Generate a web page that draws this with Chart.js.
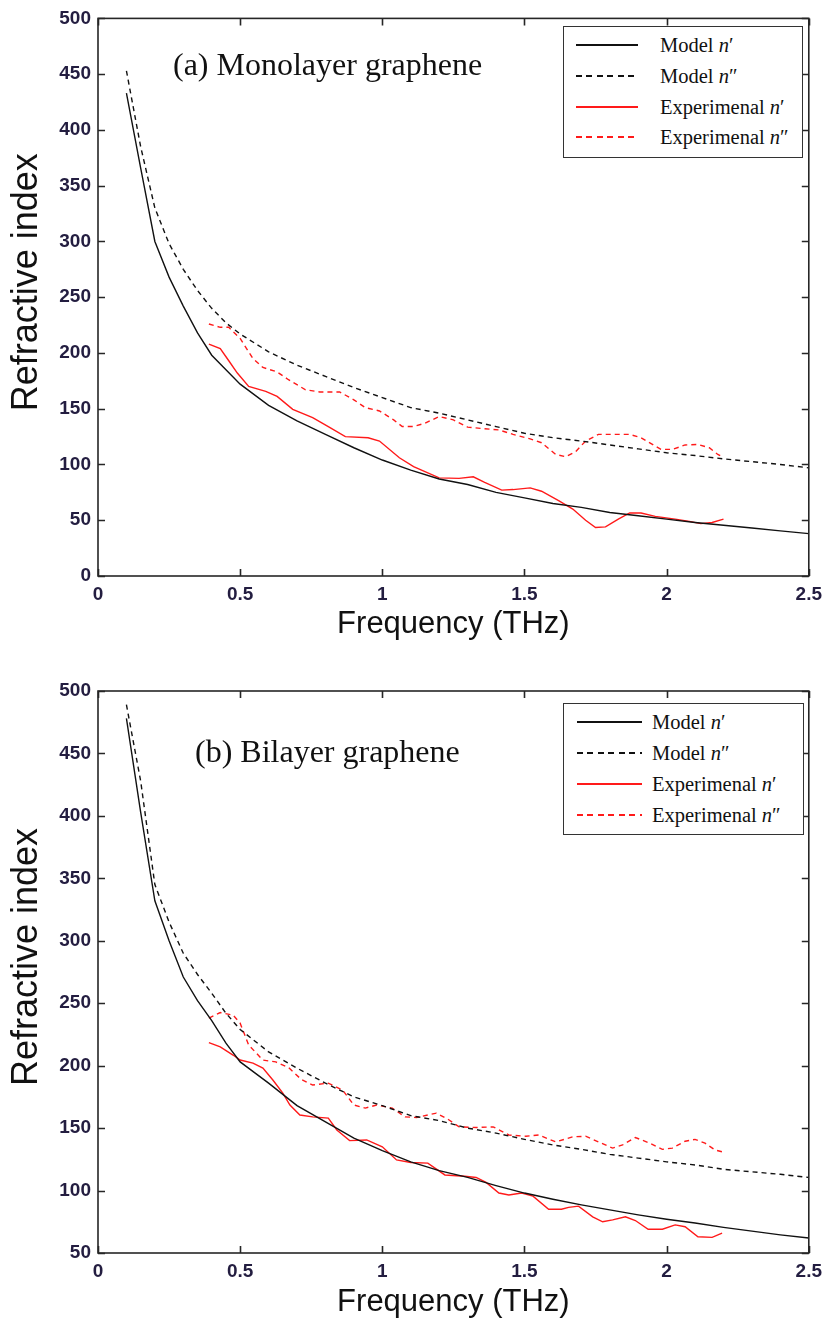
<!DOCTYPE html>
<html lang="en">
<head>
<meta charset="UTF-8">
<title>Refractive index of graphene</title>
<style>
    body {
        margin: 0;
        background: #fff;
    }
    .page {
        position: relative;
        width: 829px;
        height: 1325px;
        overflow: hidden;
        background: #fff;
    }
    canvas {
        position: absolute;
        left: 0;
    }
    .note {
        position: absolute;
        font-family: 'Liberation Serif', 'Times New Roman', serif;
        font-size: 32px;
        line-height: 32px;
        color: #111;
        white-space: nowrap;
    }
    .legend {
        position: absolute;
        border: 1.6px solid #333;
        background: #fff;
        box-sizing: border-box;
    }
    .legend .row {
        position: absolute;
        left: 0;
        height: 20px;
        display: flex;
        align-items: center;
        font-family: 'Liberation Serif', 'Times New Roman', serif;
        font-size: 20.5px;
        line-height: 20px;
        color: #111;
        white-space: nowrap;
    }
    .legend .sample {
        display: inline-block;
        height: 1.6px;
    }
</style>
</head>
<body>
<div class="page">
    <canvas id="chart-mono" width="829" height="650" style="top:0"></canvas>
    <canvas id="chart-bi" width="829" height="675" style="top:650px"></canvas>

    <div class="note" style="left:173px; top:48px">(a) Monolayer graphene</div>
    <div class="note" style="left:195px; top:735px">(b) Bilayer graphene</div>

    <div class="legend" id="legend-mono" style="left:563px; top:26px; width:240px; height:132px"></div>
    <div class="legend" id="legend-bi" style="left:563px; top:703px; width:241px; height:132px"></div>
</div>

<script src="https://cdn.jsdelivr.net/npm/chart.js"></script>
<script>
    // frequency (THz) grid for the model curves
    const modelFreq = [0.1, 0.15, 0.2, 0.25, 0.3, 0.35, 0.4, 0.45, 0.5, 0.6, 0.7, 0.8, 0.9, 1.0,
                       1.1, 1.2, 1.3, 1.4, 1.5, 1.6, 1.7, 1.8, 1.9, 2.0, 2.1, 2.2, 2.3, 2.4, 2.5];
    const xTicks = [0, 0.5, 1, 1.5, 2, 2.5];

    // (a) monolayer
    const monoModelN1 = [433, 366, 300, 268, 242, 218, 198, 185, 172, 153, 139, 127, 115, 104,
                         95, 87, 82, 75, 70, 65, 61.5, 57, 54, 51, 48, 45.5, 43, 40.5, 38];
    const monoModelN2 = [453, 385, 330, 298, 275, 256, 240, 227, 217, 201, 189, 179, 169, 160,
                         151, 146, 140, 134, 128, 124, 121, 117.5, 114, 110.5, 108, 105, 102.5, 100, 97];
    const monoExpN1Freq = [0.39, 0.43, 0.46, 0.49, 0.53, 0.59, 0.63, 0.685, 0.755, 0.81, 0.87, 0.95,
                           0.99, 1.06, 1.11, 1.2, 1.27, 1.32, 1.36, 1.42, 1.46, 1.52, 1.56, 1.62,
                           1.67, 1.715, 1.75, 1.785, 1.83, 1.87, 1.91, 1.96, 2.03, 2.08, 2.12, 2.16, 2.2];
    const monoExpN1 = [208, 204, 193, 182, 170, 165.5, 161, 149.5, 142, 134, 125, 124,
                       121, 106, 98, 88, 87.5, 89, 84, 77, 77.5, 79, 76, 67.5,
                       60, 50, 43.5, 44, 51, 56.5, 56.5, 53.5, 51, 49, 47, 48, 51];
    const monoExpN2Freq = [0.39, 0.43, 0.46, 0.5, 0.545, 0.58, 0.63, 0.67, 0.73, 0.78, 0.85, 0.9,
                           0.94, 0.99, 1.04, 1.07, 1.11, 1.15, 1.2, 1.25, 1.3, 1.36, 1.41, 1.46,
                           1.52, 1.56, 1.61, 1.645, 1.68, 1.715, 1.76, 1.81, 1.87, 1.91, 1.95, 1.98,
                           2.02, 2.065, 2.11, 2.15, 2.18, 2.195];
    const monoExpN2 = [226, 223, 223, 213, 195, 187, 183, 176, 167, 165, 165, 158,
                       151, 148, 140, 134, 134, 137, 143, 140, 133.5, 132, 131, 127,
                       123, 119.5, 109, 107, 111.5, 121, 127, 127, 127, 124, 118, 113.5,
                       113.5, 117.5, 118, 115, 109, 107];

    // (b) bilayer
    const biModelN1 = [478, 403, 332, 300, 271, 252, 236, 218, 203, 186, 168, 155, 142, 132,
                       123, 116, 110.5, 104, 98, 93, 88.5, 84.5, 80.5, 77, 74, 70.5, 67.5, 64.5, 62];
    const biModelN2 = [489, 428, 345, 315, 290, 273, 258, 242, 229, 211, 198, 186, 175, 168,
                       160, 156, 150, 146, 141, 136.5, 133, 129, 126, 123, 120.5, 117, 115, 113, 110.5];
    const biExpN1Freq = [0.39, 0.43, 0.475, 0.5, 0.545, 0.58, 0.615, 0.65, 0.675, 0.71, 0.755, 0.81,
                         0.84, 0.885, 0.945, 1.0, 1.05, 1.1, 1.16, 1.22, 1.29, 1.33, 1.365, 1.41,
                         1.445, 1.49, 1.53, 1.585, 1.63, 1.655, 1.69, 1.74, 1.775, 1.81, 1.855, 1.89,
                         1.935, 1.985, 2.03, 2.065, 2.11, 2.16, 2.195];
    const biExpN1 = [218.5, 215, 208.5, 204.5, 202, 198, 188.5, 178, 168.5, 160.5, 159, 158,
                     148.5, 140, 140.5, 135, 124.5, 122.5, 122, 112.5, 111.5, 110.5, 106.5, 98,
                     96.5, 98, 95.5, 85, 85, 86.5, 87.5, 79, 75, 76.5, 79, 76,
                     69, 69, 72.5, 71, 63, 62.5, 66];
    const biExpN2Freq = [0.39, 0.43, 0.475, 0.5, 0.53, 0.58, 0.625, 0.67, 0.715, 0.755, 0.81, 0.86,
                         0.9, 0.94, 0.98, 1.035, 1.08, 1.12, 1.19, 1.235, 1.27, 1.33, 1.39, 1.445,
                         1.505, 1.55, 1.61, 1.67, 1.715, 1.76, 1.81, 1.845, 1.89, 1.94, 1.985, 2.02,
                         2.065, 2.1, 2.135, 2.17, 2.195];
    const biExpN2 = [238, 242.5, 240.5, 234, 216.5, 204.5, 203, 198.5, 189, 184.5, 186, 180.5,
                     168.5, 166, 168.5, 166, 159, 158.5, 162, 156.5, 151, 150.5, 151, 144.5,
                     143.5, 144.5, 139, 143, 143.5, 139, 134, 136.5, 142.5, 138, 133, 134,
                     139.5, 141, 138, 132.5, 131];

    const legendLabels = ['Model <i>n</i>′', 'Model <i>n</i>″', 'Experimenal <i>n</i>′', 'Experimenal <i>n</i>″'];

    const BLACK = '#111';
    const RED = '#ff1a1a';

    function pts(xs, ys) {
        return xs.map((x, i) => ({ x: x, y: ys[i] }));
    }

    function buildSets(m1, m2, e1x, e1, e2x, e2) {
        const base = { showLine: true, pointRadius: 0, borderWidth: 1.4, tension: 0, fill: false };
        return [
            { ...base, label: 'Model n′', data: pts(modelFreq, m1), borderColor: BLACK },
            { ...base, label: 'Model n″', data: pts(modelFreq, m2), borderColor: BLACK, borderDash: [5, 4] },
            { ...base, label: 'Experimenal n′', data: pts(e1x, e1), borderColor: RED },
            { ...base, label: 'Experimenal n″', data: pts(e2x, e2), borderColor: RED, borderDash: [5, 4] }
        ];
    }

    // frame and inward tick marks on all four sides
    const frameTicks = {
        id: 'frameTicks',
        afterDraw(chart) {
            const { ctx, chartArea: a, scales: { x, y } } = chart;
            const len = 7;
            ctx.save();
            ctx.strokeStyle = '#262626';
            ctx.lineWidth = 1.6;
            ctx.strokeRect(a.left, a.top, a.right - a.left, a.bottom - a.top);
            ctx.beginPath();
            x.ticks.forEach(t => {
                const px = Math.round(x.getPixelForValue(t.value)) + 0.5;
                ctx.moveTo(px, a.bottom); ctx.lineTo(px, a.bottom - len);
                ctx.moveTo(px, a.top); ctx.lineTo(px, a.top + len);
            });
            y.ticks.forEach(t => {
                const py = Math.round(y.getPixelForValue(t.value)) + 0.5;
                ctx.moveTo(a.left, py); ctx.lineTo(a.left + len, py);
                ctx.moveTo(a.right, py); ctx.lineTo(a.right - len, py);
            });
            ctx.stroke();
            ctx.restore();
        }
    };

    function makeChart(id, datasets, yMin, padTop, axisH, xTitlePad) {
        const tickFont = { family: "'Liberation Sans', Arial, sans-serif", size: 19, weight: 'bold' };
        return new Chart(document.getElementById(id), {
            type: 'scatter',
            data: { datasets: datasets },
            options: {
                responsive: false,
                animation: false,
                events: [],
                layout: { padding: { top: padTop, right: 19, left: 0, bottom: 0 } },
                scales: {
                    x: {
                        type: 'linear',
                        min: 0,
                        max: 2.5,
                        afterBuildTicks: s => { s.ticks = xTicks.map(v => ({ value: v })); },
                        afterFit: s => { s.height = axisH; },
                        grid: { display: false, drawTicks: false },
                        border: { display: false },
                        ticks: {
                            font: tickFont,
                            color: '#231d40',
                            padding: 7,
                            maxRotation: 0,
                            callback: v => String(v)
                        },
                        title: {
                            display: true,
                            text: 'Frequency (THz)',
                            font: { family: "'Liberation Sans', Arial, sans-serif", size: 31 },
                            color: '#111',
                            padding: { top: 0, bottom: xTitlePad }
                        }
                    },
                    y: {
                        type: 'linear',
                        min: yMin,
                        max: 500,
                        afterFit: s => { s.width = 98; },
                        grid: { display: false, drawTicks: false },
                        border: { display: false },
                        ticks: {
                            stepSize: 50,
                            font: tickFont,
                            color: '#231d40',
                            padding: 7
                        },
                        title: {
                            display: true,
                            // leading spaces lift the label a little above the axis centre
                            text: '\u00a0\u00a0\u00a0Refractive index',
                            font: { family: "'Liberation Sans', Arial, sans-serif", size: 36 },
                            color: '#111',
                            padding: { top: 5, bottom: 0 }
                        }
                    }
                },
                plugins: {
                    legend: { display: false },
                    tooltip: { enabled: false }
                }
            },
            plugins: [frameTicks]
        });
    }

    function buildLegend(el, datasets, lineLeft, lineW, textLeft, rowYs) {
        datasets.forEach((ds, i) => {
            const row = document.createElement('div');
            row.className = 'row';
            row.style.top = (rowYs[i] - 10) + 'px';
            const sample = document.createElement('span');
            sample.className = 'sample';
            sample.style.marginLeft = lineLeft + 'px';
            sample.style.width = lineW + 'px';
            sample.style.marginRight = (textLeft - lineLeft - lineW) + 'px';
            if (ds.borderDash) {
                sample.style.background = 'repeating-linear-gradient(to right, ' + ds.borderColor +
                    ' 0 6px, transparent 6px 10.5px)';
            } else {
                sample.style.background = ds.borderColor;
            }
            const label = document.createElement('span');
            label.innerHTML = legendLabels[i];
            row.appendChild(sample);
            row.appendChild(label);
            el.appendChild(row);
        });
    }

    const monoSets = buildSets(monoModelN1, monoModelN2, monoExpN1Freq, monoExpN1, monoExpN2Freq, monoExpN2);
    const biSets = buildSets(biModelN1, biModelN2, biExpN1Freq, biExpN1, biExpN2Freq, biExpN2);

    makeChart('chart-mono', monoSets, 0, 15, 74, 7);
    makeChart('chart-bi', biSets, 50, 41, 72, 4);

    buildLegend(document.getElementById('legend-mono'), monoSets, 12, 62, 96, [18, 49, 80, 110]);
    buildLegend(document.getElementById('legend-bi'), biSets, 13, 65, 88, [18, 49, 80, 111]);
</script>
</body>
</html>
